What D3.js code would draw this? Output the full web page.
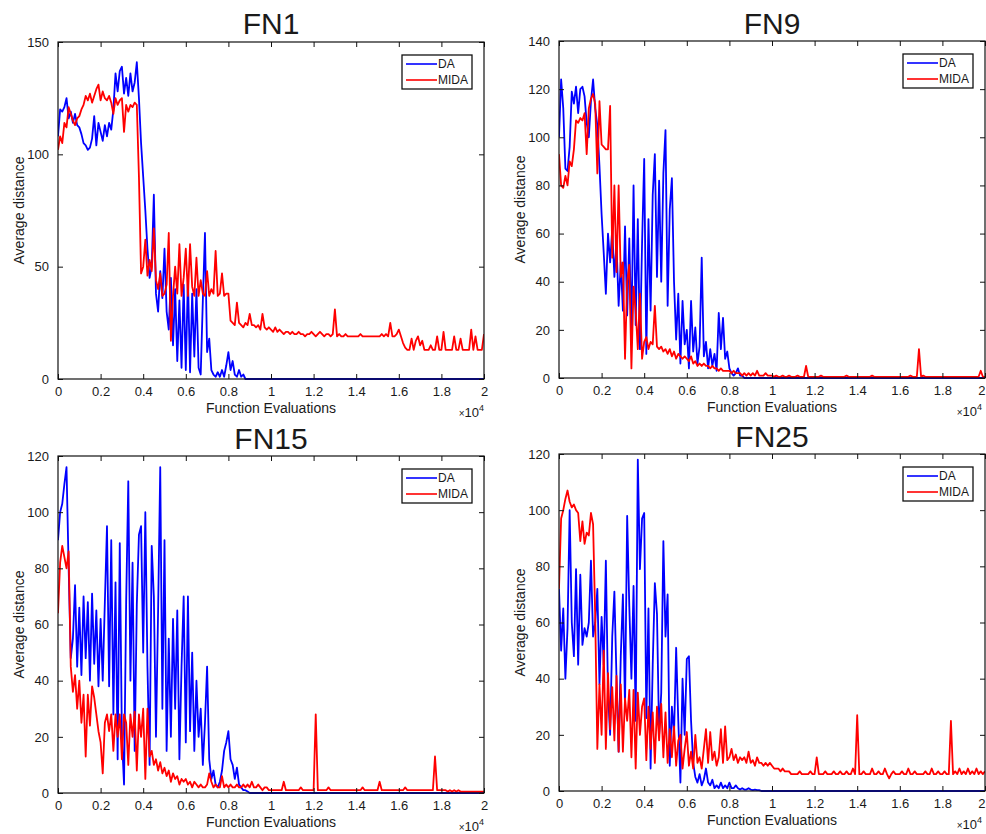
<!DOCTYPE html>
<html>
<head>
<meta charset="utf-8">
<script src="https://cdn.jsdelivr.net/npm/d3@7"></script>
<style>
    body { margin: 0; background: #fff; }
    svg text { font-family: "Liberation Sans", Arial, sans-serif; fill: #1a1a1a; }
</style>
</head>
<body>
<div id="chart"></div>
<script>
// every curve is sampled once per 100 function evaluations (0 .. 20000)
const evalStep = 100;

const xTickValues = [0, 2000, 4000, 6000, 8000, 10000, 12000, 14000, 16000, 18000, 20000];
const seriesNames = ["DA", "MIDA"];
const seriesColors = ["#0000ff", "#ff0000"];
const panelTitles = ["FN1", "FN9", "FN15", "FN25"];
const yTicksFN1 = [0, 50, 100, 150];
const yTicksFN9 = [0, 20, 40, 60, 80, 100, 120, 140];
const yTicksFN15 = [0, 20, 40, 60, 80, 100, 120];
const yTicksFN25 = [0, 20, 40, 60, 80, 100, 120];

const fn1DA = [
    108,120,119,121,125,116,119,114,118,113,
    112,109,105,104,102,103,107,117,104,114,
    110,106,113,108,114,111,120,136,128,137,
    139,127,134,126,136,128,132,141,125,105,
    90,75,58,45,50,82,38,30,48,36,
    58,30,22,45,15,40,8,35,5,42,
    4,45,3,38,10,40,5,2,35,65,
    12,18,4,2,1,3,1,4,1,6,
    12,4,8,2,1,4,1,2,0,0,
    0,0,0,0,0,0,0,0,0,0,
    0,0,0,0,0,0,0,0,0,0,
    0,0,0,0,0,0,0,0,0,0,
    0,0,0,0,0,0,0,0,0,0,
    0,0,0,0,0,0,0,0,0,0,
    0,0,0,0,0,0,0,0,0,0,
    0,0,0,0,0,0,0,0,0,0,
    0,0,0,0,0,0,0,0,0,0,
    0,0,0,0,0,0,0,0,0,0,
    0,0,0,0,0,0,0,0,0,0,
    0,0,0,0,0,0,0,0,0,0,
    0];
const fn1MIDA = [
    102,108,105,114,112,121,118,115,113,116,
    117,120,122,126,124,127,123,126,129,131,
    124,128,125,124,126,123,118,125,122,124,
    125,110,122,119,122,121,123,122,90,47,
    50,62,46,53,48,67,44,40,47,37,
    38,42,65,17,37,50,38,60,37,45,
    58,37,60,41,37,54,37,44,38,37,
    48,37,40,38,57,37,38,47,37,38,
    38,26,25,24,34,25,24,23,25,24,
    29,24,24,23,24,22,29,23,22,23,
    22,21,23,21,22,21,20,21,21,20,
    21,20,20,21,20,20,19,20,20,21,
    20,19,20,21,20,19,20,20,19,20,
    31,19,20,19,19,20,19,19,19,19,
    19,19,20,19,19,19,19,19,19,19,
    19,19,20,19,20,19,25,19,19,20,
    22,19,16,14,13,13,18,13,17,19,
    15,17,13,13,13,15,13,13,19,13,
    13,21,13,13,13,13,19,13,13,18,
    13,13,13,13,22,13,19,13,13,13,
    20];

const fn9DA = [
    100,124,112,87,86,96,119,114,121,110,
    120,121,117,106,100,115,124,112,105,88,
    68,52,35,60,48,62,42,56,30,48,
    28,63,26,58,18,80,22,66,12,56,
    91,10,66,28,76,93,42,82,40,85,
    103,30,70,83,40,16,35,6,32,14,
    20,4,32,11,21,6,13,50,9,15,
    4,12,5,10,3,27,12,25,8,11,
    4,2,1,2,4,1,1,0,0,0,
    0,0,0,0,0,0,0,0,0,0,
    0,0,0,0,0,0,0,0,0,0,
    0,0,0,0,0,0,0,0,0,0,
    0,0,0,0,0,0,0,0,0,0,
    0,0,0,0,0,0,0,0,0,0,
    0,0,0,0,0,0,0,0,0,0,
    0,0,0,0,0,0,0,0,0,0,
    0,0,0,0,0,0,0,0,0,0,
    0,0,0,0,0,0,0,0,0,0,
    0,0,0,0,0,0,0,0,0,0,
    0,0,0,0,0,0,0,0,0,0,
    0];
const fn9MIDA = [
    93,80,79,84,80,90,88,95,107,106,
    108,107,110,93,112,116,118,114,85,115,
    97,96,95,95,113,50,80,44,80,42,
    48,8,40,47,4,38,28,12,35,8,
    15,17,12,15,14,30,13,12,13,11,
    12,10,12,9,11,8,10,9,8,9,
    8,7,9,6,7,5,6,5,6,5,
    5,4,5,4,4,3,4,3,3,3,
    3,2,3,2,2,2,1,2,1,2,
    1,2,1,3,1,1,1,2,1,1,
    1,0.5,1,0.5,0.5,1,0.5,0.5,1,0.5,
    0.5,0.5,1,0.5,0.5,0.5,5,0.5,0.5,0.5,
    0.5,0.5,0.5,1,0.5,0.5,0.5,0.5,0.5,0.5,
    0.5,0.5,0.5,0.5,0.5,1,0.5,0.5,0.5,0.5,
    0.5,0.5,0.5,0.5,0.5,0.5,0.5,1,0.5,0.5,
    0.5,0.5,0.5,0.5,0.5,0.5,0.5,0.5,0.5,0.5,
    0.5,0.5,0.5,0.5,0.5,1,0.5,0.5,0.5,12,
    0.5,1,0.5,0.5,0.5,0.5,0.5,0.5,0.5,0.5,
    0.5,0.5,0.5,0.5,0.5,0.5,0.5,0.5,0.5,0.5,
    0.5,0.5,0.5,0.5,0.5,0.5,0.5,0.5,3,0.5,
    0.5];

const fn15DA = [
    90,100,103,110,116,80,48,55,74,45,
    66,42,70,48,68,40,71,46,65,38,
    62,40,68,95,38,90,28,75,12,89,
    20,3,68,111,40,82,15,67,92,95,
    50,100,45,10,88,70,20,65,116,30,
    90,15,55,20,62,30,65,12,45,70,
    18,70,22,50,15,40,20,30,10,25,
    45,12,5,8,3,2,4,8,15,18,
    22,12,10,5,9,3,2,1,1,0.5,
    0,0,0,0,0,0,0,0,0,0,
    0,0,0,0,0,0,0,0,0,0,
    0,0,0,0,0,0,0,0,0,0,
    0,0,0,0,0,0,0,0,0,0,
    0,0,0,0,0,0,0,0,0,0,
    0,0,0,0,0,0,0,0,0,0,
    0,0,0,0,0,0,0,0,0,0,
    0,0,0,0,0,0,0,0,0,0,
    0,0,0,0,0,0,0,0,0,0,
    0,0,0,0,0,0,0,0,0,0,
    0,0,0,0,0,0,0,0,0,0,
    0];
const fn15MIDA = [
    64,82,88,84,80,86,45,36,42,30,
    40,25,35,13,35,24,38,34,28,22,
    18,7,25,28,22,28,15,28,20,28,
    12,28,25,10,28,20,29,8,28,20,
    30,5,30,13,15,10,12,8,11,7,
    9,6,8,4,7,5,6,3,5,4,
    5,3,4,2,4,3,2,3,2,2,
    3,7,4,2,3,2,2,6,2,3,
    2,3,2,2,3,2,2,3,2,3,
    2,4,2,2,3,2,1,2,2,1,
    1,1,1,1,1,1,4,1,1,1,
    1,1,1,1,2,1,1,1,1,1,
    1,28,1,1,1,1,1,2,1,1,
    1,1,1,1,1,1,1,1,1,1,
    1,1,1,2,1,1,1,1,1,1,
    1,4,1,1,1,1,1,1,1,1,
    1,1,1,2,1,1,1,1,1,1,
    1,1,1,1,1,1,1,13,1,1,
    1,1,1,0.5,1,0.5,1,0.5,1,0.5,
    0.5,0.5,0.5,0.5,0.5,0.5,0.5,0.5,0.5,0.5,
    0.5];

const fn25DA = [
    72,50,65,40,58,100,60,48,79,45,
    77,52,58,55,60,82,55,60,72,38,
    62,45,82,35,20,55,71,40,14,48,
    70,30,98,66,40,73,25,118,79,97,
    99,26,65,8,45,74,63,20,35,89,
    55,70,9,30,20,51,25,3,40,20,
    47,48,25,10,5,3,6,2,4,8,
    3,2,4,1,2,1,3,1,2,1,
    3,1,1,2,1,0.5,1,0.5,0.5,1,
    0.5,0.3,0.5,0.3,0.3,0,0,0,0,0,
    0,0,0,0,0,0,0,0,0,0,
    0,0,0,0,0,0,0,0,0,0,
    0,0,0,0,0,0,0,0,0,0,
    0,0,0,0,0,0,0,0,0,0,
    0,0,0,0,0,0,0,0,0,0,
    0,0,0,0,0,0,0,0,0,0,
    0,0,0,0,0,0,0,0,0,0,
    0,0,0,0,0,0,0,0,0,0,
    0,0,0,0,0,0,0,0,0,0,
    0,0,0,0,0,0,0,0,0,0,
    0];
const fn25MIDA = [
    72,97,100,104,107,103,101,102,100,99,
    89,96,88,92,91,99,95,62,15,38,
    20,50,15,42,22,37,18,41,14,38,
    14,33,25,36,12,36,8,35,20,30,
    33,11,30,15,28,10,30,18,31,12,
    28,10,22,12,23,9,18,20,8,15,
    21,9,14,8,20,10,12,8,15,22,
    10,21,11,14,9,12,22,10,23,11,
    12,15,11,13,10,12,11,12,10,14,
    10,11,9,12,10,10,9,10,9,10,
    9,8,8,8,7,8,7,7,7,6,
    6,6,6,7,6,6,6,6,7,6,
    6,12,6,6,6,7,6,6,6,7,
    6,6,7,6,6,7,6,6,8,6,
    27,6,6,7,6,6,6,8,6,6,
    7,6,6,8,6,4.5,6,7,6,6,
    6,7,6,6,8,6,6,7,6,6,
    6,6,7,6,6,8,6,6,7,6,
    6,7,6,6,25,6,7,6,8,6,
    7,6,8,6,7,6,8,6,7,6,
    7];

// plot boxes (pixel edges of each axes area)
const panels = [
    {title: panelTitles[0], left: 58, top: 42, right: 484, bottom: 379, yTicks: yTicksFN1, series: [fn1DA, fn1MIDA], titleY: 34},
    {title: panelTitles[1], left: 559, top: 41, right: 985, bottom: 378, yTicks: yTicksFN9, series: [fn9DA, fn9MIDA], titleY: 34},
    {title: panelTitles[2], left: 58, top: 456, right: 484, bottom: 793, yTicks: yTicksFN15, series: [fn15DA, fn15MIDA], titleY: 449},
    {title: panelTitles[3], left: 559, top: 454, right: 985, bottom: 791, yTicks: yTicksFN25, series: [fn25DA, fn25MIDA], titleY: 447}
];

const pageWidth = 986, pageHeight = 834;

const svg = d3.select("#chart")
    .append("svg")
    .attr("width", pageWidth)
    .attr("height", pageHeight);

svg.append("rect").attr("width", pageWidth).attr("height", pageHeight).attr("fill", "#fff");

function drawPanel(p, idx) {
    const xScale = d3.scaleLinear().domain([0, 20000]).range([p.left, p.right]);
    const yScale = d3.scaleLinear()
        .domain([0, p.yTicks[p.yTicks.length - 1]])
        .range([p.bottom, p.top]);

    const g = svg.append("g");
    const clipId = "clip" + idx;
    svg.append("clipPath").attr("id", clipId)
        .append("rect")
        .attr("x", p.left)
        .attr("y", p.top - 1)
        .attr("width", p.right - p.left)
        .attr("height", p.bottom - p.top + 2);

    const line = d3.line()
        .x((d, i) => xScale(i * evalStep))
        .y(d => yScale(d));

    // DA first, MIDA on top
    p.series.forEach((s, k) => {
        g.append("path")
            .datum(s)
            .attr("clip-path", `url(#${clipId})`)
            .attr("d", line)
            .attr("fill", "none")
            .attr("stroke", seriesColors[k])
            .attr("stroke-width", 1.8)
            .attr("stroke-linejoin", "round");
    });

    const styleAxis = sel => {
        sel.attr("font-size", 13).attr("color", "#111");
        sel.select(".domain").remove();
    };

    // matlab style box: ticks pointing inward on all four sides
    const xAxisG = g.append("g")
        .attr("transform", `translate(0, ${p.bottom})`)
        .call(d3.axisBottom(xScale).tickValues(xTickValues).tickFormat(d => d / 1e4).tickSize(-5).tickPadding(8))
        .call(styleAxis);
    // last label of the right column would run off the page: pull it inside
    if (p.right > pageWidth - 8) {
        xAxisG.selectAll(".tick text")
            .filter(d => d === 20000)
            .attr("text-anchor", "end")
            .attr("x", 0);
    }
    g.append("g")
        .attr("transform", `translate(0, ${p.top})`)
        .call(d3.axisTop(xScale).tickValues(xTickValues).tickFormat("").tickSize(-5))
        .call(styleAxis);
    g.append("g")
        .attr("transform", `translate(${p.left}, 0)`)
        .call(d3.axisLeft(yScale).tickValues(p.yTicks).tickSize(-5).tickPadding(9))
        .call(styleAxis);
    g.append("g")
        .attr("transform", `translate(${p.right}, 0)`)
        .call(d3.axisRight(yScale).tickValues(p.yTicks).tickFormat("").tickSize(-5))
        .call(styleAxis);

    g.append("rect")
        .attr("x", p.left)
        .attr("y", p.top)
        .attr("width", p.right - p.left)
        .attr("height", p.bottom - p.top)
        .attr("fill", "none")
        .attr("stroke", "#111")
        .attr("stroke-width", 1.2);

    // title
    g.append("text")
        .attr("x", (p.left + p.right) / 2)
        .attr("y", p.titleY)
        .attr("text-anchor", "middle")
        .attr("font-size", 30)
        .text(p.title);

    // axis labels
    g.append("text")
        .attr("x", (p.left + p.right) / 2)
        .attr("y", p.bottom + 34)
        .attr("text-anchor", "middle")
        .attr("font-size", 14)
        .text("Function Evaluations");

    g.append("text")
        .attr("transform", `translate(${p.left - 34}, ${(p.top + p.bottom) / 2}) rotate(-90)`)
        .attr("text-anchor", "middle")
        .attr("font-size", 14)
        .text("Average distance");

    // exponent marker, kept inside the page on the right column
    const expo = g.append("text")
        .attr("x", Math.min(p.right, pageWidth - 4))
        .attr("y", p.bottom + 38)
        .attr("text-anchor", "end")
        .attr("font-size", 13);
    expo.append("tspan").attr("font-size", 10).text("×");
    expo.append("tspan").text("10");
    expo.append("tspan").attr("font-size", 9).attr("dy", -6).text("4");

    // legend
    const lx = p.right - 82, ly = p.top + 13;
    const legend = g.append("g");
    legend.append("rect")
        .attr("x", lx).attr("y", ly)
        .attr("width", 70).attr("height", 34)
        .attr("fill", "#fff")
        .attr("stroke", "#111")
        .attr("stroke-width", 1.3);
    seriesNames.forEach((name, k) => {
        legend.append("line")
            .attr("x1", lx + 4).attr("x2", lx + 35)
            .attr("y1", ly + 9 + k * 16).attr("y2", ly + 9 + k * 16)
            .attr("stroke", seriesColors[k])
            .attr("stroke-width", 1.6);
        legend.append("text")
            .attr("x", lx + 36)
            .attr("y", ly + 13 + k * 16)
            .attr("font-size", 12)
            .text(name);
    });
}

panels.forEach(drawPanel);
</script>
</body>
</html>
